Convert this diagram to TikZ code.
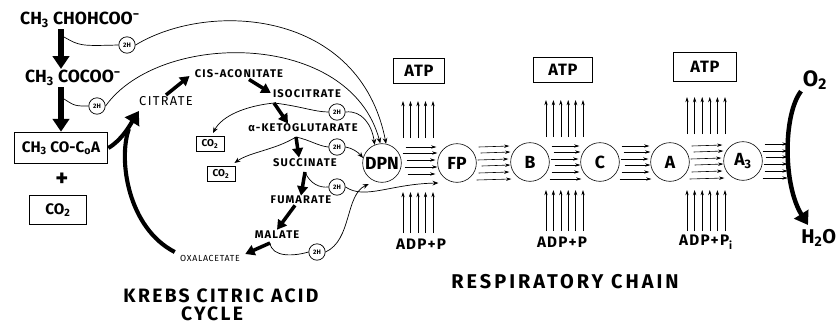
\documentclass[tikz,border=0pt]{standalone}
\usepackage{fontspec}
\setmainfont{Fira Sans}
\usetikzlibrary{arrows.meta,calc}

\begin{document}
\begin{tikzpicture}[x=0.03cm,y=-0.03cm,
    every node/.style={font=\bfseries},
    chem/.style={font=\fontsize{15}{16}\selectfont\bfseries, inner sep=1pt},
    chembox/.style={draw, line width=.8pt, font=\fontsize{13}{14}\selectfont\bfseries, inner sep=1pt},
    cyc/.style={font=\fontsize{9.5}{10}\selectfont\bfseries\addfontfeature{LetterSpace=10}, inner sep=1pt},
    co2box/.style={draw, line width=.7pt, minimum width=24pt, minimum height=13pt, inner sep=0pt, font=\fontsize{8.5}{9}\selectfont\bfseries},
    twoh/.style={circle, draw, line width=.6pt, minimum size=14pt, inner sep=0pt, font=\fontsize{5.5}{6}\selectfont\bfseries},
    carrier/.style={circle, draw, line width=.5pt, minimum size=33pt, inner sep=0pt, font=\fontsize{15}{16}\selectfont\bfseries},
    atpbox/.style={draw, line width=.8pt, minimum height=21pt, inner sep=2pt, font=\fontsize{14}{15}\selectfont\bfseries\addfontfeature{LetterSpace=5}},
    adp/.style={font=\fontsize{13}{14}\selectfont\bfseries\addfontfeature{LetterSpace=8}, inner sep=1pt},
    title/.style={font=\fontsize{16.5}{18}\selectfont\bfseries\addfontfeature{LetterSpace=12}, inner sep=0pt},
    bigarr/.style={line width=4.5pt, -{Triangle[length=11pt,width=14pt]}},
    cycarr/.style={line width=3pt, -{Triangle[length=8pt,width=9pt]}},
    hline/.style={line width=.6pt},
    thinarr/.style={line width=.6pt, -{Stealth[length=5pt,width=4pt]}},
    chainarr/.style={line width=.5pt, -{Stealth[length=4.5pt,width=2.8pt]}},
    vertarr/.style={line width=.5pt, -{Stealth[length=4.5pt,width=2.8pt]}}]
  \useasboundingbox (0,0) rectangle (836,325);

  % lactate / pyruvate column
  \node[chem] (lac) at (80,20) {CH\textsubscript{3} CHOHCOO\textsuperscript{−}};
  \node[chem] (pyr) at (73,78) {CH\textsubscript{3} COCOO\textsuperscript{−}};
  \node[chembox, minimum width=80pt, minimum height=27pt] (acoa) at (61,148) {CH\textsubscript{3} CO-C\textsubscript{o}A};
  \node[chem, font=\fontsize{21}{22}\selectfont\bfseries] (plus) at (62,180) {+};
  \node[chembox, minimum width=48pt, minimum height=25pt] (co2) at (58,210) {CO\textsubscript{2}};
  \node[twoh] (h1) at (127,45) {2H};
  \node[twoh] (h2) at (97,106) {2H};

  % Krebs cycle
  \node[font=\fontsize{11}{12}\selectfont\addfontfeature{LetterSpace=10}, inner sep=1pt] (cit) at (166,101) {CITRATE};
  \node[cyc] (cis) at (239,74) {CIS-ACONITATE};
  \node[cyc] (iso) at (307,94) {ISOCITRATE};
  \node[cyc] (akg) at (303,128) {α-KETOGLUTARATE};
  \node[cyc] (suc) at (305,163) {SUCCINATE};
  \node[cyc] (fum) at (301,200) {FUMARATE};
  \node[cyc] (mal) at (277,235) {MALATE};
  \node[cyc, font=\fontsize{7.5}{8}\selectfont\addfontfeature{LetterSpace=8}] (oxa) at (210,258) {OXALACETATE};
  \node[co2box] (c1) at (210,144) {CO\textsubscript{2}};
  \node[co2box] (c2) at (221,174) {CO\textsubscript{2}};
  \node[twoh] (h3) at (337,112) {2H};
  \node[twoh] (h4) at (337,147) {2H};
  \node[twoh] (h5) at (337,187) {2H};
  \node[twoh] (h6) at (317,252) {2H};
  \coordinate (isoj) at (274,103);
  \coordinate (akgj) at (296,137);
  \coordinate (sucj) at (305,172);
  \coordinate (malj) at (270,243);

  % respiratory chain
  \node[carrier] (dpn) at (382,163) {DPN};
  \node[carrier] (fp) at (457,163) {FP};
  \node[carrier] (b) at (530,162) {B};
  \node[carrier] (c) at (600,162) {C};
  \node[carrier] (a) at (670,162) {A};
  \node[carrier] (a3) at (743,161) {A\textsubscript{3}};
  \node[atpbox, minimum width=44pt] (atp1) at (419,71) {ATP};
  \node[atpbox, minimum width=51pt] (atp2) at (563,70) {ATP};
  \node[atpbox, minimum width=53pt, minimum height=24pt] (atp3) at (705,67) {ATP};
  \node[adp] (adp1) at (421,244) {ADP+P};
  \node[adp] (adp2) at (562,242) {ADP+P};
  \node[adp] (adp3) at (706,242) {ADP+P\textsubscript{i}};
  \node[chem, font=\fontsize{19}{20}\selectfont\bfseries] (o2) at (815,80) {O\textsubscript{2}};
  \node[chem, font=\fontsize{17}{18}\selectfont\bfseries, anchor=west] (h2o) at (800,238) {H\textsubscript{2}O};

  \node[title] (krebs) at (221,296) {KREBS CITRIC ACID};
  \node[title] (cycle) at (212,314) {CYCLE};
  \node[title, font=\fontsize{17}{18}\selectfont\bfseries\addfontfeature{LetterSpace=15}] (resp) at (565,282) {RESPIRATORY CHAIN};

  % left column
  \draw[bigarr] (lac.south -| acoa.north) -- (pyr.north -| acoa.north);
  \draw[bigarr] (pyr.south -| acoa.north) -- (acoa.north);
  \draw[hline] ($(h1.west -| acoa.north)+(3,-8)$) .. controls (80,46) .. (h1.west);
  \draw[hline] ($(h2.west -| acoa.north)+(3,-7)$) .. controls (75,106) .. (h2.west);
  \draw[thinarr] (h1.east) .. controls (210,0) and (360,10) .. (dpn.78);
  \draw[thinarr] (h2.east) .. controls (160,30) and (350,30) .. (dpn.95);
  \draw[bigarr, line width=3.5pt] (acoa.east) .. controls (122,140) and (130,125) .. ($(cit.south west)+(1,4)$);
  \draw[line width=3.5pt] ($(oxa.west)+(-4,-6)$) .. controls (128,228) and (118,160) .. ($(cit.south west)+(-9,22)$);

  % Krebs cycle steps
  \draw[cycarr] (cit.north) -- ($(cis.west)+(-4,2)$);
  \draw[cycarr] ($(cis.south)+(10,0)$) -- ($(iso.west)+(-1,-1)$);
  \draw[cycarr] (isoj) -- ($(akg.north)+(-15,1)$);
  \draw[cycarr] (akgj) -- ($(suc.north)+(-6,0)$);
  \draw[cycarr] (sucj) -- ($(fum.north)+(0,1)$);
  \draw[cycarr] ($(fum.south)+(-6,0)$) -- ($(mal.north)+(0,0)$);
  \draw[cycarr] (malj) -- ($(oxa.east)+(4,-4)$);
  \draw[thinarr] (isoj) .. controls (245,106) and (222,116) .. ($(c1.north)+(3,-3)$);
  \draw[thinarr] (akgj) .. controls (275,150) and (250,152) .. ($(c2.north east)+(-1,-3)$);
  \draw[hline] (isoj) .. controls (300,106) and (315,112) .. (h3.west);
  \draw[hline] (akgj) .. controls (310,140) and (318,146) .. (h4.west);
  \draw[hline] (sucj) .. controls (310,184) and (320,188) .. (h5.west);
  \draw[hline] (malj) .. controls (272,258) and (295,256) .. (h6.west);
  \draw[thinarr] (h3.east) .. controls (362,110) and (372,125) .. (dpn.112);
  \draw[thinarr] (h4.east) .. controls (352,148) and (358,152) .. (dpn.165);
  \draw[thinarr] (h5.east) .. controls (365,200) and (390,184) .. ($(fp.west)+(1,20)$);
  \draw[thinarr] (h6.east) .. controls (352,240) and (345,195) .. ($(dpn.235)+(-2,5)$);

  % electron transfer bundles
  \foreach \dy/\s/\e in {-16/4/1,-10/1/0,-3/5/2,4/3/0,11/6/2}
    \draw[chainarr] ($(dpn.east)+(\s,\dy)$) -- ($(fp.west)+(-\e,\dy)$);
  \foreach \l/\r in {fp/b,b/c,c/a,a/a3}
    \foreach \dy/\s/\e in {-16/2/1,-10/4/0,-3/1/2,3/5/0,10/2/1,17/0/-1}
      \draw[chainarr] ($(\l.east)+(\s,\dy)$) -- ($(\r.west)+(-\e,\dy)$);
  \foreach \dy/\s in {-17/2,-10/0,-4/3,3/1,10/2,17/0}
    \draw[chainarr] ($(a3.east)+(\s,\dy)$) -- ($(a3.east)+(25,\dy)$);

  % phosphorylation
  \foreach \atp/\adp/\s/\st/\n in {atp1/adp1/-16/7.5/4,atp2/adp2/-17/7.4/5,atp3/adp3/-18/7.6/5}{
    \foreach \i in {0,...,\n}{
      \draw[vertarr] ($(\atp.center)+(\s+\st*\i,67)$) -- ($(\atp.center)+(\s+\st*\i,30)$);
    }
  }
  \foreach \adp/\s/\st/\n in {adp1/-18/7.5/4,adp2/-16/7.4/5,adp3/-19/7.6/5}{
    \foreach \i in {0,...,\n}{
      \draw[vertarr] ($(\adp.center)+(\s+\st*\i,-11)$) -- ($(\adp.center)+(\s+\st*\i,-52)$);
    }
  }

  % oxygen
  \draw[bigarr, line width=3.8pt] ($(o2.south)+(-14,0)$) .. controls (783,115) and (783,185) .. ($(h2o.north west)+(8,-3)$);
\end{tikzpicture}
\end{document}
